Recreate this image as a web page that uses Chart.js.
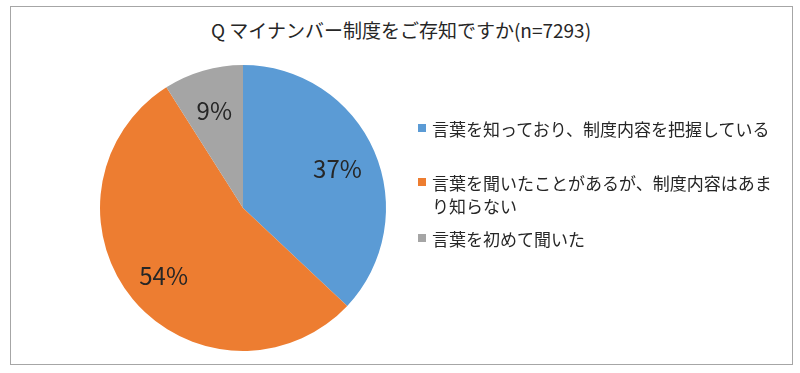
<!DOCTYPE html>
<html lang="ja">
<head>
<meta charset="utf-8">
<script src="https://cdn.jsdelivr.net/npm/chart.js@4"></script>
<style>
    html, body {
        margin: 0;
        padding: 0;
        background: #ffffff;
    }
    body {
        width: 800px;
        height: 373px;
        position: relative;
        overflow: hidden;
        font-family: "Noto Sans CJK JP", "Noto Sans", sans-serif;
        color: #262626;
    }
    #frame {
        position: absolute;
        left: 10px;
        top: 6px;
        width: 781px;
        height: 357px;
        border: 1px solid #a6a6a6;
    }
    #title {
        position: absolute;
        left: 0;
        top: 19px;
        width: 802px;
        text-align: center;
        font-size: 19px;
        line-height: 22px;
    }
    #chart-wrap {
        position: absolute;
        left: 0;
        top: 0;
        width: 800px;
        height: 373px;
    }
    #legend {
        position: absolute;
        left: 418px;
        top: 117px;
        width: 360px;
        font-size: 17px;
        line-height: 23px;
    }
    .legend-item {
        position: relative;
        padding-left: 14px;
        width: 342px;
    }
    .legend-item .box {
        position: absolute;
        left: 0;
        top: 7px;
        width: 8px;
        height: 8px;
    }
</style>
</head>
<body>
<div id="frame"></div>
<div id="title"></div>
<div id="chart-wrap"><canvas id="chart-1"></canvas></div>
<div id="legend"></div>

<script>
const titleText = "Q マイナンバー制度をご存知ですか(n=7293)";
const labels = [
    "言葉を知っており、制度内容を把握している",
    "言葉を聞いたことがあるが、制度内容はあまり知らない",
    "言葉を初めて聞いた"
];
const values = [37, 54, 9];
const colors = ["#5b9bd5", "#ed7d31", "#a5a5a5"];
// espace entre les items de la légende
const legendGaps = [0, 31, 10];

/**
 * Plugin qui écrit le pourcentage dans chaque part
 */
const pctLabels = {
    id: "pctLabels",
    afterDatasetsDraw(chart) {
        const ctx = chart.ctx;
        const meta = chart.getDatasetMeta(0);
        ctx.save();
        ctx.font = "24px 'Noto Sans CJK JP', 'Noto Sans', sans-serif";
        ctx.fillStyle = "#262626";
        ctx.textAlign = "center";
        ctx.textBaseline = "middle";
        meta.data.forEach(function(arc, i) {
            const p = arc.getProps(["x", "y", "startAngle", "endAngle", "outerRadius"], true);
            const mid = (p.startAngle + p.endAngle) / 2;
            const r = p.outerRadius * 0.72;
            ctx.fillText(values[i] + "%", p.x + Math.cos(mid) * r, p.y + 2 + Math.sin(mid) * r);
        });
        ctx.restore();
    }
};

function showTitleAndLegend() {
    document.getElementById("title").textContent = titleText;
    const legend = document.getElementById("legend");
    labels.forEach(function(label, i) {
        const item = document.createElement("div");
        item.className = "legend-item";
        item.style.marginTop = legendGaps[i] + "px";
        const box = document.createElement("span");
        box.className = "box";
        box.style.background = colors[i];
        item.appendChild(box);
        item.appendChild(document.createTextNode(label));
        legend.appendChild(item);
    });
}

function showChart() {
    const dataChart = {
        labels: labels,
        datasets: [{
            data: values,
            backgroundColor: colors,
            borderWidth: 0
        }]
    };

    const configChart = {
        type: "pie",
        data: dataChart,
        options: {
            responsive: false,
            animation: false,
            layout: {
                padding: { left: 100, right: 414, top: 65, bottom: 22 }
            },
            plugins: {
                legend: { display: false },
                title: { display: false },
                tooltip: { enabled: false }
            }
        },
        plugins: [pctLabels]
    };

    const canvas = document.getElementById("chart-1");
    canvas.width = 800;
    canvas.height = 373;
    new Chart(canvas, configChart);
}

showTitleAndLegend();
showChart();
</script>
</body>
</html>
